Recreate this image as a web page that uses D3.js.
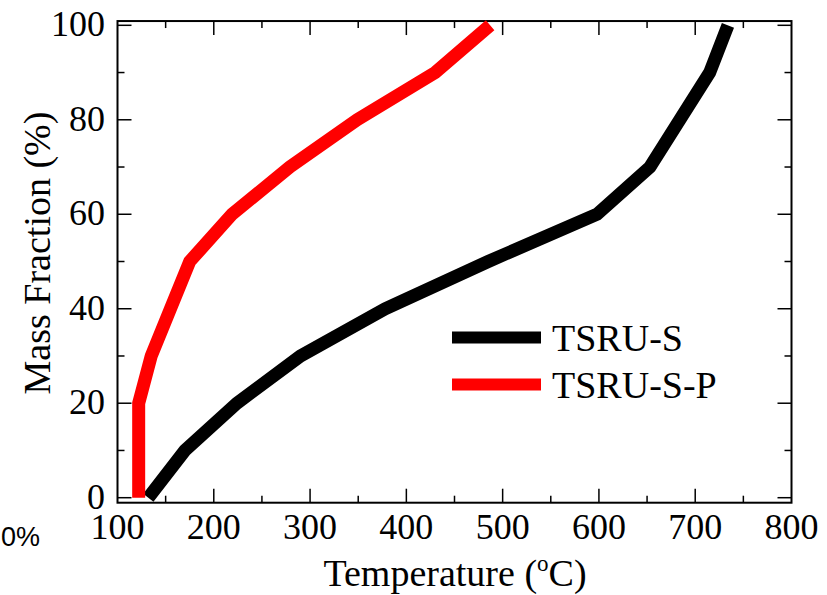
<!DOCTYPE html>
<html>
<head>
<meta charset="utf-8">
<script src="https://cdn.jsdelivr.net/npm/d3@7"></script>
<style>
  body { margin: 0; background: #fff; }
  svg { display: block; }
  text { font-family: "Liberation Serif", "Times New Roman", serif; fill: #000; }
</style>
</head>
<body>
<div id="chart"></div>
<script>
// values: temperature (C) at each mass fraction (%)
var fractions = [0, 10, 20, 30, 40, 50, 60, 70, 80, 90, 100];
var tsruS  = [132, 170, 224, 290, 378, 485, 598, 653, 684, 715, 734];
var fractionsP = [0, 20, 30, 40, 50, 60, 70, 80, 90, 100];
var tsruSP = [122, 122, 135, 155, 175, 219, 279, 349, 430, 487];

var seriesNames = ["TSRU-S", "TSRU-S-P"];
var seriesColors = ["#000000", "#ff0000"];

var xTicks = [100, 200, 300, 400, 500, 600, 700, 800];
var yTicks = [0, 20, 40, 60, 80, 100];

var width = 827, height = 595;

var svg = d3.select("#chart").append("svg")
    .attr("width", width)
    .attr("height", height);

// scales - frame goes a little beyond 0 and 100 on the y side
var x = d3.scaleLinear().domain([100, 800]).range([117.5, 791.5]);
var y = d3.scaleLinear().domain([0, 100]).range([497.7, 25.3]);
var yLo = -1.06, yHi = 100.9;

var frameL = x(100), frameR = x(800), frameT = y(yHi), frameB = y(yLo);

// ticks (inward, on all four sides)
var ticks = svg.append("g").attr("stroke", "#000").attr("stroke-width", 1.5);
d3.range(150, 800, 50).forEach(function(v) {
    var len = v % 100 == 0 ? 14 : 7;
    ticks.append("line").attr("x1", x(v)).attr("x2", x(v)).attr("y1", frameB).attr("y2", frameB - len);
    ticks.append("line").attr("x1", x(v)).attr("x2", x(v)).attr("y1", frameT).attr("y2", frameT + len);
});
d3.range(0, 101, 10).forEach(function(v) {
    var len = v % 20 == 0 ? 14 : 7;
    ticks.append("line").attr("x1", frameL).attr("x2", frameL + len).attr("y1", y(v)).attr("y2", y(v));
    ticks.append("line").attr("x1", frameR).attr("x2", frameR - len).attr("y1", y(v)).attr("y2", y(v));
});

// the frame
svg.append("rect")
    .attr("x", frameL).attr("y", frameT)
    .attr("width", frameR - frameL).attr("height", frameB - frameT)
    .attr("fill", "none").attr("stroke", "#000").attr("stroke-width", 2);

// tick labels
svg.selectAll(".xlab").data(xTicks).enter().append("text")
    .attr("class", "xlab")
    .attr("x", function(d) { return x(d); })
    .attr("y", 539)
    .attr("text-anchor", "middle")
    .style("font-size", "36px")
    .text(function(d) { return d; });

svg.selectAll(".ylab").data(yTicks).enter().append("text")
    .attr("class", "ylab")
    .attr("x", 105)
    .attr("y", function(d) { return y(d) + 11; })
    .attr("text-anchor", "end")
    .style("font-size", "36px")
    .text(function(d) { return d; });

// stray label at the bottom left edge
svg.append("text")
    .attr("x", 40).attr("y", 546)
    .attr("text-anchor", "end")
    .style("font-family", "'Liberation Sans', Arial, sans-serif")
    .style("font-size", "27px")
    .text("0%");

// axis titles
var xt = svg.append("text")
    .attr("x", 455).attr("y", 586)
    .attr("text-anchor", "middle")
    .style("font-size", "38px");
xt.append("tspan").text("Temperature (");
xt.append("tspan").attr("dy", -15).style("font-size", "23px").text("o");
xt.append("tspan").attr("dy", 15).text("C)");

svg.append("text")
    .attr("transform", "translate(50,253) rotate(-90)")
    .attr("text-anchor", "middle")
    .style("font-size", "38px")
    .text("Mass Fraction (%)");

// the two curves
var line = d3.line()
    .x(function(d) { return x(d[0]); })
    .y(function(d) { return y(d[1]); });

var curves = [
    d3.zip(tsruS, fractions),
    d3.zip(tsruSP, fractionsP)
];

svg.selectAll(".curve").data(curves).enter().append("path")
    .attr("class", "curve")
    .attr("d", line)
    .attr("fill", "none")
    .attr("stroke", function(d, i) { return seriesColors[i]; })
    .attr("stroke-width", 13)
    .attr("stroke-linejoin", "miter")
    .attr("stroke-linecap", "butt");

// legend
var legend = svg.selectAll(".legend").data(seriesNames).enter().append("g")
    .attr("class", "legend")
    .attr("transform", function(d, i) { return "translate(452," + (337.5 + i * 47) + ")"; });

legend.append("line")
    .attr("x1", 0).attr("x2", 89)
    .attr("stroke", function(d, i) { return seriesColors[i]; })
    .attr("stroke-width", 12);

legend.append("text")
    .attr("x", 100).attr("y", 13)
    .style("font-size", "38px")
    .text(function(d) { return d; });
</script>
</body>
</html>
